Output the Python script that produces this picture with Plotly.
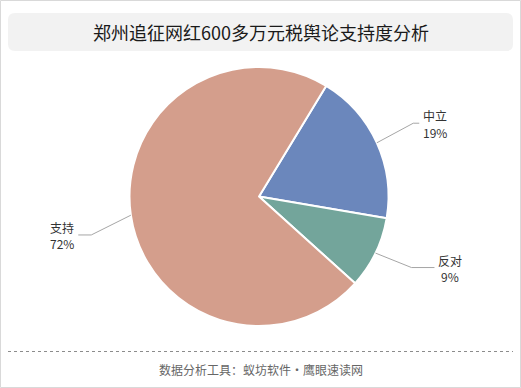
import math
import plotly.graph_objects as go

# ---- data ----
labels = ["中立", "反对", "支持"]
values = [19, 9, 72]
colors = ["#6B87BC", "#73A59B", "#D49E8C"]
title_text = "郑州追征网红600多万元税舆论支持度分析"
footer_text = "数据分析工具：蚁坊软件・鹰眼速读网"

# ---- layout constants (pixels) ----
W, H = 521, 388
CX, CY, R = 259, 196.5, 129.5
START_ANGLE = 31.3  # clockwise from 12 o'clock
L1 = 40
# per-label layout tweaks (vertical nudge of label, horizontal length of 2nd segment)
LABEL_LAYOUT = {"中立": (-3, 6), "反对": (-3, 23), "支持": (14, 13)}
FONT = "Noto Sans CJK SC, Noto Sans, sans-serif"


def px(x):
    return x / W


def py(y):
    return 1 - y / H


fig = go.Figure(go.Pie(
    labels=labels, values=values, sort=False, direction="clockwise",
    rotation=START_ANGLE, textinfo="none", hoverinfo="skip",
    marker=dict(colors=colors, line=dict(color="#ffffff", width=2)),
    domain=dict(x=[px(CX - R), px(CX + R)], y=[py(CY + R), py(CY - R)]),
    showlegend=False,
))

shapes = []
annotations = []

# outer border
shapes.append(dict(type="rect", xref="paper", yref="paper",
                   x0=px(0.5), x1=px(W - 0.5), y0=py(H - 0.5), y1=py(0.5),
                   line=dict(color="#d9d9d9", width=1), layer="above"))


# rounded title box
def rounded_rect(x0, y0, x1, y1, r):
    pts = [
        f"M{px(x0 + r)},{py(y0)}",
        f"L{px(x1 - r)},{py(y0)}",
        f"Q{px(x1)},{py(y0)} {px(x1)},{py(y0 + r)}",
        f"L{px(x1)},{py(y1 - r)}",
        f"Q{px(x1)},{py(y1)} {px(x1 - r)},{py(y1)}",
        f"L{px(x0 + r)},{py(y1)}",
        f"Q{px(x0)},{py(y1)} {px(x0)},{py(y1 - r)}",
        f"L{px(x0)},{py(y0 + r)}",
        f"Q{px(x0)},{py(y0)} {px(x0 + r)},{py(y0)}",
        "Z",
    ]
    return " ".join(pts)


shapes.append(dict(type="path", xref="paper", yref="paper",
                   path=rounded_rect(8, 13, 513, 51, 7),
                   fillcolor="#f2f2f2", line=dict(width=0), layer="below"))
annotations.append(dict(text=title_text, x=px(260.5), y=py(31.5), xref="paper", yref="paper",
                        xanchor="center", yanchor="middle", showarrow=False,
                        font=dict(family=FONT, size=18, color="#1a1a1a")))

# footer
shapes.append(dict(type="line", xref="paper", yref="paper",
                   x0=px(8), x1=px(513), y0=py(351.5), y1=py(351.5),
                   line=dict(color="#8c8c8c", width=1, dash="dot")))
annotations.append(dict(text=footer_text, x=px(261), y=py(369.5), xref="paper", yref="paper",
                        xanchor="center", yanchor="middle", showarrow=False,
                        font=dict(family=FONT, size=12, color="#666666")))

# labels with leader lines, computed from slice angles
total = sum(values)
cum = 0
for lab, val in zip(labels, values):
    mid = START_ANGLE + (cum + val / 2) / total * 360
    cum += val
    a = math.radians(mid)
    dx, dy = math.sin(a), -math.cos(a)
    nudge, l2 = LABEL_LAYOUT[lab]
    p0 = (CX + R * dx, CY + R * dy)
    p1 = (CX + (R + L1) * dx, CY + (R + L1) * dy + nudge)
    side = 1 if dx >= 0 else -1
    p2 = (p1[0] + side * l2, p1[1])
    path = (f"M{px(p0[0])},{py(p0[1])} L{px(p1[0])},{py(p1[1])} "
            f"L{px(p2[0])},{py(p2[1])}")
    shapes.append(dict(type="path", xref="paper", yref="paper", path=path,
                       line=dict(color="#a6a6a6", width=1)))
    tx = p2[0] + side * 16
    pct = f"{round(val / total * 100)}%"
    annotations.append(dict(text=lab, x=px(tx), y=py(p2[1] - 7.5), xref="paper", yref="paper",
                            xanchor="center", yanchor="middle", showarrow=False,
                            font=dict(family=FONT, size=12, color="#333333")))
    annotations.append(dict(text=pct, x=px(tx), y=py(p2[1] + 9), xref="paper", yref="paper",
                            xanchor="center", yanchor="middle", showarrow=False,
                            font=dict(family=FONT, size=12, color="#333333")))

fig.update_layout(
    width=W, height=H, margin=dict(l=0, r=0, t=0, b=0),
    paper_bgcolor="#ffffff", plot_bgcolor="#ffffff",
    shapes=shapes, annotations=annotations,
)

fig.write_html(
    "out.html",
    config={"displayModeBar": False},
    post_script="document.body.style.margin='0';document.body.style.padding='0';"
                "document.body.style.overflow='hidden';",
)
